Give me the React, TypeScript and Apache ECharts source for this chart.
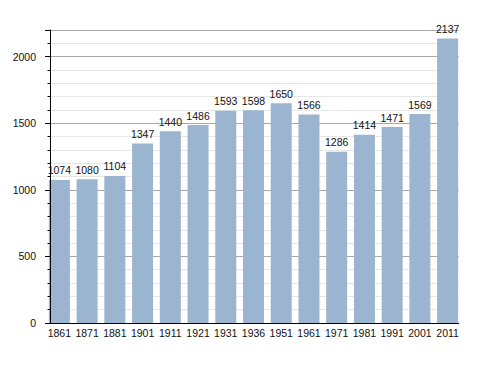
import React, { useEffect, useRef } from "react";
import * as echarts from "echarts";

const years = ["1861","1871","1881","1901","1911","1921","1931","1936","1951","1961","1971","1981","1991","2001","2011"];
const population = [1074,1080,1104,1347,1440,1486,1593,1598,1650,1566,1286,1414,1471,1569,2137];
const yMin = 0;
const yMax = 2200;
const yInterval = 500;

const FONT = "'Liberation Sans', Arial, sans-serif";

export default function App() {
  const ref = useRef<HTMLDivElement>(null);
  useEffect(() => {
    document.body.style.margin = "0";
    if (!ref.current) return;
    const chart = echarts.init(ref.current, undefined, { renderer: "svg" });
    chart.setOption({
      animation: false,
      backgroundColor: "#ffffff",
      grid: [
        { left: 45.5, right: 26.5, top: 30, bottom: 50 },
        { left: 50, right: 29.3, top: 30, bottom: 50 },
      ],
      xAxis: [
        {
          type: "category",
          gridIndex: 0,
          data: years,
          axisLine: { show: false },
          axisTick: { show: false },
          axisLabel: { color: "#111", fontSize: 10.5, fontFamily: FONT, margin: 4, interval: 0 },
        },
        {
          type: "value",
          gridIndex: 1,
          min: 0,
          max: 1,
          z: 10,
          axisLine: { show: true, lineStyle: { color: "#000", width: 1 } },
          axisTick: { show: false },
          axisLabel: { show: false },
          splitLine: { show: false },
        },
      ],
      yAxis: [
        {
          type: "value",
          gridIndex: 0,
          min: yMin,
          max: yMax,
          show: false,
        },
        {
          type: "value",
          gridIndex: 1,
          position: "left",
          min: yMin,
          max: yMax,
          interval: yInterval,
          z: 0,
          axisLine: { show: false },
          axisTick: { show: false },
          axisLabel: { show: false },
          splitLine: { show: true, lineStyle: { color: "#a8a8a8", width: 1 } },
          minorTick: { show: false, splitNumber: 5 },
          minorSplitLine: { show: true, lineStyle: { color: "#e6e6e6", width: 1 } },
        },
        {
          type: "value",
          gridIndex: 1,
          position: "left",
          min: yMin,
          max: yMax,
          interval: yInterval,
          z: 10,
          axisLine: { show: true, lineStyle: { color: "#000", width: 1 } },
          axisTick: { show: true, length: 5, lineStyle: { color: "#000" } },
          minorTick: { show: true, splitNumber: 5, length: 2.5, lineStyle: { color: "#000" } },
          axisLabel: {
            color: "#111",
            fontSize: 10.5,
            fontFamily: FONT,
            margin: 14,
            formatter: (v: number) => (v % yInterval === 0 ? String(v) : ""),
          },
          splitLine: { show: false },
        },
      ],
      series: [
        {
          type: "bar",
          xAxisIndex: 0,
          yAxisIndex: 0,
          data: population,
          barWidth: 21,
          itemStyle: { color: "#9bb4cf" },
          label: {
            show: true,
            position: "top",
            distance: 4,
            color: "#111",
            fontSize: 10.5,
            fontFamily: FONT,
          },
        },
      ],
    });
    return () => chart.dispose();
  }, []);
  return <div ref={ref} style={{ width: 488, height: 373 }} />;
}
